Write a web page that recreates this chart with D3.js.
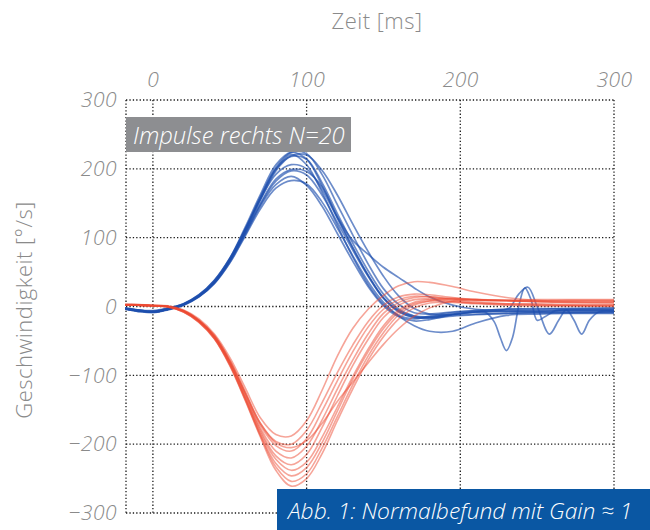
<!DOCTYPE html>
<html>
<head>
<meta charset="utf-8">
<script src="https://cdn.jsdelivr.net/npm/d3@7"></script>
<style>
  body { margin: 0; background: #fff; }
  svg { display: block; font-family: "Open Sans", sans-serif; }
</style>
</head>
<body>
<div id="chart"></div>
<script>
// time grid shared by most traces (ms)
const zeitMs = [-18, -10, 0, 10, 20, 30, 40, 50, 60, 70, 80, 90, 100, 110, 120, 130, 140, 150, 160, 170, 180, 195, 210, 230, 250, 270, 300];

// rightward impulses (blue), head velocity in °/s
const blauKurven = [
  [-3, -6, -8, -4, 3, 16, 36, 68, 112, 160, 202, 224, 222, 192, 148, 104, 62, 26, 3, -9, -11, -8, -6, -4, -3, -3, -2],
  [-2, -5, -7, -3, 4, 17, 38, 70, 115, 163, 206, 224, 214, 176, 130, 86, 46, 13, -6, -14, -15, -11, -8, -7, -6, -5, -5],
  [-4, -7, -9, -5, 2, 14, 34, 66, 108, 155, 197, 219, 220, 198, 162, 120, 80, 44, 15, -3, -11, -12, -11, -10, -9, -9, -8],
  [-3, -5, -6, -2, 4, 16, 36, 68, 110, 157, 199, 221, 206, 166, 118, 72, 32, 3, -13, -18, -14, -9, -6, -4, -4, -3, -3],
  [-3, -6, -8, -4, 3, 15, 35, 66, 106, 148, 182, 197, 191, 162, 122, 82, 44, 12, -7, -16, -17, -14, -12, -10, -9, -9, -9],
  [-2, -5, -7, -3, 3, 15, 34, 64, 104, 146, 177, 189, 176, 146, 106, 66, 29, 1, -15, -21, -19, -12, -8, -7, -7, -6, -6],
  [-4, -7, -8, -4, 2, 14, 33, 63, 102, 142, 172, 183, 178, 152, 114, 74, 36, 6, -14, -28, -36, -36, -24, -13, -11, -10, -10],
  [-3, -6, -8, -4, 3, 15, 35, 66, 107, 150, 185, 199, 196, 174, 130, 96, 76, 57, 42, 27, 14, 2, -4, -6, -7, -7, -7]
];

// two blue traces with oscillation in the tail, own time points
const zeitOszA = [-18, -10, 0, 10, 20, 30, 40, 50, 60, 70, 80, 90, 100, 110, 120, 130, 140, 150, 160, 170, 180, 195, 210, 216, 222, 226, 230, 234, 238, 242, 246, 250, 255, 262, 270, 285, 300];
const oszA = [-3, -6, -8, -4, 3, 16, 37, 69, 112, 158, 200, 218, 214, 180, 135, 92, 52, 18, -4, -14, -16, -12, -8, -8, -22, -45, -64, -45, 0, 27, 10, -20, -15, -6, -5, -5, -5];
const zeitOszB = [-18, -10, 0, 10, 20, 30, 40, 50, 60, 70, 80, 90, 100, 110, 120, 130, 140, 150, 160, 170, 180, 195, 210, 225, 232, 238, 244, 250, 258, 264, 269, 274, 279, 284, 290, 300];
const oszB = [-3, -5, -7, -3, 4, 17, 38, 70, 112, 156, 192, 206, 200, 170, 128, 85, 45, 12, -8, -16, -16, -11, -8, -6, -2, 18, 28, 0, -40, -20, -5, -20, -40, -20, -8, -7];

// leftward impulses (red)
const rotKurven = [
  [3, 3, 2, 1, -5, -18, -40, -74, -118, -162, -186, -188, -166, -122, -72, -32, -4, 16, 30, 36, 35, 29, 21, 13, 9, 8, 8],
  [2, 2, 1, 0, -6, -20, -42, -78, -124, -170, -196, -200, -180, -140, -96, -56, -22, 2, 14, 18, 17, 13, 10, 8, 7, 6, 6],
  [3, 3, 2, 0, -6, -20, -43, -80, -126, -173, -202, -210, -192, -152, -108, -66, -30, -4, 10, 15, 14, 10, 7, 4, 3, 2, 2],
  [2, 2, 1, 0, -7, -21, -44, -80, -128, -177, -210, -220, -203, -165, -120, -78, -40, -10, 6, 13, 14, 11, 9, 8, 8, 9, 9],
  [3, 2, 1, 0, -7, -21, -45, -82, -130, -180, -217, -230, -215, -176, -130, -86, -48, -16, 2, 10, 11, 8, 5, 3, 2, 1, 1],
  [2, 2, 1, -1, -7, -22, -45, -83, -132, -183, -222, -238, -226, -190, -146, -102, -62, -28, -5, 6, 10, 12, 10, 9, 8, 7, 7],
  [3, 2, 1, 0, -8, -22, -46, -84, -134, -186, -228, -246, -234, -198, -152, -106, -66, -32, -8, 4, 8, 7, 5, 4, 4, 3, 3],
  [2, 2, 1, -1, -8, -23, -47, -85, -135, -188, -233, -254, -243, -206, -160, -114, -72, -38, -12, 2, 8, 11, 10, 9, 10, 10, 10],
  [3, 2, 1, 0, -8, -23, -47, -86, -136, -190, -238, -261, -250, -214, -166, -120, -78, -44, -18, -2, 5, 6, 4, 2, 1, 1, 0],
  [2, 2, 1, 0, -6, -20, -42, -78, -124, -170, -198, -205, -195, -170, -138, -110, -82, -55, -32, -14, -2, 8, 10, 9, 7, 6, 5]
];

const xTicks = [0, 100, 200, 300];
const yTicks = [-300, -200, -100, 0, 100, 200, 300];

const width = 650, height = 530;
const plotLeft = 126, plotRight = 614, plotTop = 100, plotBottom = 513;
const grau = "#8a8a8a";

const svg = d3.select("#chart").append("svg")
    .attr("width", width)
    .attr("height", height);

const x = d3.scaleLinear().domain([-17.5, 300]).range([plotLeft, plotRight]);
const y = d3.scaleLinear().domain([-300, 300]).range([plotBottom, plotTop]);

// dotted grid incl. frame
const grid = svg.append("g").attr("stroke", "#1a1a1a")
    .attr("stroke-width", 1.3)
    .attr("stroke-dasharray", "1.3 2.1");

grid.selectAll(".gy").data(yTicks).join("line")
    .attr("x1", plotLeft).attr("x2", plotRight)
    .attr("y1", d => y(d)).attr("y2", d => y(d));

grid.selectAll(".gx").data([-17.5, ...xTicks]).join("line")
    .attr("y1", plotTop).attr("y2", plotBottom)
    .attr("x1", d => x(d)).attr("x2", d => x(d));

// axes (labels only)
const xAxis = svg.append("g")
    .attr("transform", `translate(0,${plotTop})`)
    .call(d3.axisTop(x).tickValues(xTicks).tickSize(0).tickPadding(13));

const yAxis = svg.append("g")
    .attr("transform", `translate(${plotLeft},0)`)
    .call(d3.axisLeft(y).tickValues(yTicks).tickSize(0).tickPadding(9));

[xAxis, yAxis].forEach(a => {
    a.select(".domain").remove();
    a.selectAll("text")
        .attr("fill", grau)
        .style("font-size", "21px")
        .style("font-weight", 300)
        .style("letter-spacing", "0.5px")
        .style("font-style", "italic")
        .style("font-family", "'Open Sans', sans-serif");
});

// traces
const line = d3.line()
    .x(d => x(d[0]))
    .y(d => y(d[1]))
    .curve(d3.curveCatmullRom.alpha(0.5));

const blauDaten = blauKurven.map(v => zeitMs.map((t, i) => [t, v[i]]));
blauDaten.push(zeitOszA.map((t, i) => [t, oszA[i]]));
blauDaten.push(zeitOszB.map((t, i) => [t, oszB[i]]));
const rotDaten = rotKurven.map(v => zeitMs.map((t, i) => [t, v[i]]));

svg.append("g").selectAll("path").data(blauDaten).join("path")
    .attr("d", line)
    .attr("fill", "none")
    .attr("stroke", "#1d4fae")
    .attr("stroke-opacity", 0.65)
    .attr("stroke-width", 1.7);

svg.append("g").selectAll("path").data(rotDaten).join("path")
    .attr("d", line)
    .attr("fill", "none")
    .attr("stroke", "#ee4a32")
    .attr("stroke-opacity", 0.5)
    .attr("stroke-width", 1.6);

// titles
svg.append("text")
    .attr("x", 377).attr("y", 29)
    .attr("text-anchor", "middle")
    .attr("fill", grau)
    .style("font-size", "22px")
    .style("font-weight", 300)
    .style("letter-spacing", "0.5px")
    .text("Zeit [ms]");

svg.append("text")
    .attr("transform", "translate(24,310) rotate(-90)")
    .attr("text-anchor", "middle")
    .attr("dy", "0.35em")
    .attr("fill", grau)
    .style("font-size", "22px")
    .style("font-weight", 300)
    .style("letter-spacing", "0.5px")
    .text("Geschwindigkeit [°/s]");

// label boxes
svg.append("rect")
    .attr("x", 126).attr("y", 117)
    .attr("width", 225).attr("height", 35)
    .attr("fill", "#8d8e91");

svg.append("text")
    .attr("x", 133).attr("y", 144)
    .attr("fill", "#fff")
    .style("font-size", "23.8px")
    .style("font-weight", 300)
    .style("font-style", "italic")
    .text("Impulse rechts N=20");

svg.append("rect")
    .attr("x", 277).attr("y", 489)
    .attr("width", 373).attr("height", 41)
    .attr("fill", "#0a57a3");

svg.append("text")
    .attr("x", 288).attr("y", 519)
    .attr("fill", "#fff")
    .style("font-size", "22.8px")
    .style("font-weight", 300)
    .style("font-style", "italic")
    .text("Abb. 1: Normalbefund mit Gain ≈ 1");
</script>
</body>
</html>
